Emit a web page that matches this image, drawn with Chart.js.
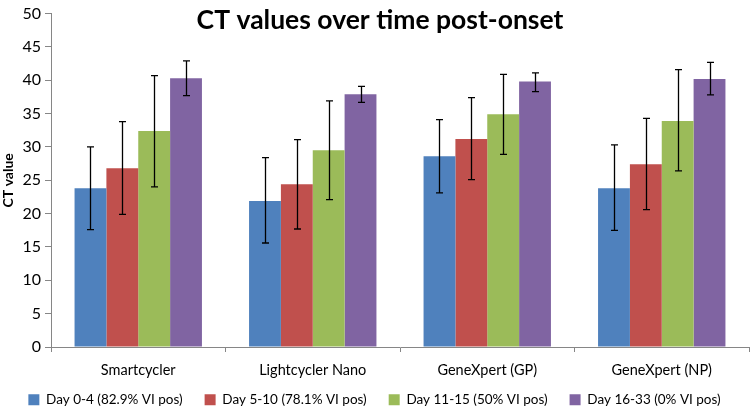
<!DOCTYPE html>
<html>
<head>
<meta charset="utf-8">
<script src="https://cdn.jsdelivr.net/npm/chart.js@4/dist/chart.umd.min.js"></script>
<style>
  html, body { margin: 0; padding: 0; background: #fff; }
  #wrap { width: 750px; height: 409px; }
</style>
</head>
<body>
<div id="wrap"><canvas id="ctChart"></canvas></div>
<script>
// categories and series
const categories = ['Smartcycler', 'Lightcycler Nano', 'GeneXpert (GP)', 'GeneXpert (NP)'];
const seriesNames = ['Day 0-4 (82.9% VI pos)', 'Day 5-10 (78.1% VI pos)', 'Day 11-15 (50% VI pos)', 'Day 16-33 (0% VI pos)'];
const seriesColors = ['#4F81BD', '#C0504D', '#9BBB59', '#8064A2'];

const day0to4 = [23.8, 21.9, 28.6, 23.8];
const day5to10 = [26.8, 24.4, 31.2, 27.4];
const day11to15 = [32.4, 29.5, 34.9, 33.9];
const day16to33 = [40.3, 37.9, 39.8, 40.2];

// error bar ends
const errHigh = [
  [30.0, 28.4, 34.1, 30.3],
  [33.8, 31.1, 37.4, 34.3],
  [40.7, 36.9, 40.9, 41.6],
  [42.9, 39.1, 41.1, 42.7]
];
const errLow = [
  [17.6, 15.6, 23.1, 17.5],
  [19.9, 17.7, 25.1, 20.6],
  [24.0, 22.1, 28.9, 26.4],
  [37.7, 36.7, 38.3, 37.8]
];

const yTicks = [0, 5, 10, 15, 20, 25, 30, 35, 40, 45, 50];

const FONT = 'Lato, "Open Sans", sans-serif';

// draws whiskers from the error arrays through the y scale
const errorBars = {
  id: 'errorBars',
  afterDatasetsDraw(chart) {
    const ctx = chart.ctx;
    const y = chart.scales.y;
    ctx.save();
    ctx.strokeStyle = '#000';
    ctx.lineWidth = 1.3;
    chart.data.datasets.forEach((ds, i) => {
      const meta = chart.getDatasetMeta(i);
      meta.data.forEach((bar, j) => {
        const x = Math.round(bar.x) + 0.5;
        const top = y.getPixelForValue(errHigh[i][j]);
        const bot = y.getPixelForValue(errLow[i][j]);
        ctx.beginPath();
        ctx.moveTo(x, top); ctx.lineTo(x, bot);
        ctx.moveTo(x - 3.5, top); ctx.lineTo(x + 3.5, top);
        ctx.moveTo(x - 3.5, bot); ctx.lineTo(x + 3.5, bot);
        ctx.stroke();
      });
    });
    ctx.restore();
  }
};

// title sits inside the plot area, like the original
const overlayTitle = {
  id: 'overlayTitle',
  afterDraw(chart) {
    const ctx = chart.ctx;
    ctx.save();
    ctx.fillStyle = '#000';
    ctx.font = 'bold 26.5px ' + FONT;
    ctx.textAlign = 'center';
    ctx.textBaseline = 'middle';
    ctx.fillText('CT values over time post-onset', 380, 20);
    ctx.restore();
  }
};

// x axis box is kept short so the legend sits low; let its labels spill past it
const unclipX = {
  id: 'unclipX',
  afterLayout(chart) {
    chart.scales.x.bottom = chart.height;
  }
};

const datasetValues = [day0to4, day5to10, day11to15, day16to33];

const ctChart = new Chart(document.getElementById('ctChart'), {
  type: 'bar',
  data: {
    labels: categories,
    datasets: datasetValues.map((vals, i) => ({
      label: seriesNames[i],
      data: vals,
      backgroundColor: seriesColors[i],
      borderWidth: 0,
      categoryPercentage: 0.73,
      barPercentage: 1.0
    }))
  },
  options: {
    responsive: true,
    maintainAspectRatio: false,
    animation: false,
    layout: { padding: { top: 5, right: 1, left: 0, bottom: 0 } },
    plugins: {
      legend: {
        position: 'bottom',
        maxHeight: 38,
        labels: {
          boxWidth: 11,
          boxHeight: 11,
          padding: 22,
          color: '#000',
          font: { family: FONT, size: 13.5 }
        }
      },
      title: { display: false },
      tooltip: { enabled: false }
    },
    scales: {
      x: {
        grid: { display: true, drawOnChartArea: false, offset: true, color: '#868686', tickLength: 5 },
        border: { color: '#868686' },
        ticks: { color: '#000', font: { family: FONT, size: 14.5 }, padding: 10 },
        afterFit(s) { s.height = 24; }
      },
      y: {
        min: 0,
        max: 50,
        afterBuildTicks(s) { s.ticks = yTicks.map(v => ({ value: v })); },
        grid: { display: true, drawOnChartArea: false, color: '#868686', tickLength: 6 },
        border: { color: '#868686' },
        ticks: { color: '#000', font: { family: FONT, size: 16 }, padding: 4 },
        title: { display: true, text: 'CT value', color: '#000', font: { family: FONT, size: 14, weight: 'bold' }, padding: 0 },
        afterFit(s) { s.width = 51; }
      }
    }
  },
  plugins: [errorBars, overlayTitle, unclipX]
});
</script>
</body>
</html>
